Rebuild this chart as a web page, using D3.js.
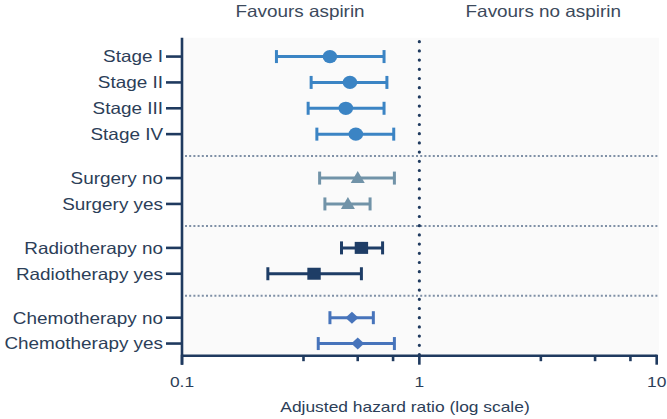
<!DOCTYPE html>
<html><head><meta charset="utf-8">
<script src="https://cdn.jsdelivr.net/npm/d3@7"></script>
<style>body{margin:0;background:#fff}svg{display:block}text{font-family:"Liberation Sans",Arial,Helvetica,sans-serif}</style>
</head><body><svg id="c" width="667" height="419"></svg>
<script>
const categories = ["Stage I","Stage II","Stage III","Stage IV","Surgery no","Surgery yes","Radiotherapy no","Radiotherapy yes","Chemotherapy no","Chemotherapy yes"];
const groups = ["Stage","Stage","Stage","Stage","Surgery","Surgery","Radiotherapy","Radiotherapy","Chemotherapy","Chemotherapy"];
const hazardRatio = [0.42,0.51,0.49,0.54,0.55,0.50,0.57,0.36,0.52,0.55];
const lowerCI = [0.25,0.35,0.34,0.37,0.38,0.40,0.47,0.23,0.42,0.375];
const upperCI = [0.71,0.73,0.71,0.78,0.785,0.62,0.70,0.57,0.64,0.785];
const majorTicks = [0.1,1,10];
const majorTickLabels = ["0.1","1","10"];
const minorTicks = [0.325,0.55,0.775,3.25,5.5,7.75];
const headers = ["Favours aspirin","Favours no aspirin"];
const axisTitle = "Adjusted hazard ratio (log scale)";

const groupColor = {Stage:"#3b84c4",Surgery:"#7193a8",Radiotherapy:"#1e3d66",Chemotherapy:"#4774bb"};
const groupShape = {Stage:"circle",Surgery:"triangle",Radiotherapy:"square",Chemotherapy:"diamond"};
const axisColor = "#1f3a5f", textColor = "#2c3e58";
const SX = 1.16;

// row positions with gaps between groups
const pos = []; let p = 0;
groups.forEach((g,i)=>{ if(i>0) p += (g===groups[i-1]) ? 1 : 1.7; pos.push(p); });
const seps = [];
groups.forEach((g,i)=>{ if(i>0 && g!==groups[i-1]) seps.push((pos[i]+pos[i-1])/2); });

const svg = d3.select("#c");
const x = d3.scaleLog().domain([0.1,10]).range([182,656.7]);
const y = d3.scaleLinear().domain([-0.73,11.57]).range([37.7,355.7]);
const plotTop = y.range()[0], plotBottom = y.range()[1];

// plot background
svg.append("rect").attr("x",x(0.1)).attr("y",plotTop).attr("width",659-x(0.1)).attr("height",plotBottom-plotTop).attr("fill","#fafafa");

// header texts
const hx = [300, 543.3];
headers.forEach((h,i)=>{
  svg.append("text").attr("transform",`translate(${hx[i]},17) scale(${SX},1)`)
    .attr("text-anchor","middle").attr("font-size",16.3).attr("fill","#3c4a5c").text(h);
});

// separators
svg.selectAll("line.sep").data(seps).join("line").attr("class","sep")
  .attr("x1",x(0.1)+3).attr("x2",658).attr("y1",d=>y(d)).attr("y2",d=>y(d))
  .attr("stroke","#7f90a6").attr("stroke-width",2).attr("stroke-dasharray","2 2.2");

// reference line at 1
svg.append("line").attr("x1",x(1)).attr("x2",x(1)).attr("y1",plotTop+4).attr("y2",plotBottom)
  .attr("stroke",axisColor).attr("stroke-width",3.2).attr("stroke-linecap","round").attr("stroke-dasharray","0 9.2");

// error bars
const rows = categories.map((c,i)=>({c,g:groups[i],hr:hazardRatio[i],lo:lowerCI[i],hi:upperCI[i],p:pos[i]}));
const eb = svg.append("g").selectAll("g").data(rows).join("g").attr("stroke",d=>groupColor[d.g]).attr("stroke-width",3).attr("fill","none");
eb.append("line").attr("x1",d=>x(d.lo)).attr("x2",d=>x(d.hi)).attr("y1",d=>y(d.p)).attr("y2",d=>y(d.p));
eb.append("line").attr("x1",d=>x(d.lo)).attr("x2",d=>x(d.lo)).attr("y1",d=>y(d.p)-6.5).attr("y2",d=>y(d.p)+6.5);
eb.append("line").attr("x1",d=>x(d.hi)).attr("x2",d=>x(d.hi)).attr("y1",d=>y(d.p)-6.5).attr("y2",d=>y(d.p)+6.5);

// markers
function markerPath(shape){
  if(shape==="circle") return "M7.3,0A7.3,6.6,0,1,1,-7.3,0A7.3,6.6,0,1,1,7.3,0Z";
  if(shape==="triangle") return "M0,-7L7,5L-7,5Z";
  if(shape==="square") return "M-6.7,-6L6.7,-6L6.7,6L-6.7,6Z";
  return "M0,-6L6.5,0L0,6L-6.5,0Z";
}
svg.append("g").selectAll("path").data(rows).join("path")
  .attr("transform",d=>`translate(${x(d.hr)},${y(d.p)})`)
  .attr("d",d=>markerPath(groupShape[d.g])).attr("fill",d=>groupColor[d.g]);

// y axis
svg.append("line").attr("x1",x(0.1)).attr("x2",x(0.1)).attr("y1",plotTop).attr("y2",plotBottom+9)
  .attr("stroke",axisColor).attr("stroke-width",2.6);
const yt = svg.append("g").selectAll("g").data(rows).join("g").attr("transform",d=>`translate(0,${y(d.p)})`);
yt.append("line").attr("x1",x(0.1)-16).attr("x2",x(0.1)).attr("stroke",axisColor).attr("stroke-width",2.6);
yt.append("text").attr("transform",`translate(${x(0.1)-19},0) scale(${SX},1)`)
  .attr("text-anchor","end").attr("dy","0.36em").attr("font-size",16.3).attr("fill",textColor).text(d=>d.c);

// x axis
svg.append("line").attr("x1",x(0.1)).attr("x2",x(10)).attr("y1",plotBottom).attr("y2",plotBottom)
  .attr("stroke",axisColor).attr("stroke-width",2.6);
svg.append("g").selectAll("line").data(majorTicks).join("line")
  .attr("x1",d=>x(d)).attr("x2",d=>x(d)).attr("y1",plotBottom-1).attr("y2",plotBottom+9).attr("stroke",axisColor).attr("stroke-width",2.6);
svg.append("g").selectAll("line").data(minorTicks).join("line")
  .attr("x1",d=>x(d)).attr("x2",d=>x(d)).attr("y1",plotBottom).attr("y2",plotBottom+5.5).attr("stroke",axisColor).attr("stroke-width",2.6);
svg.append("g").selectAll("text").data(majorTicks).join("text")
  .attr("transform",d=>`translate(${x(d)},387) scale(${SX},1)`).attr("text-anchor","middle")
  .attr("font-size",15).attr("fill",textColor).text((d,i)=>majorTickLabels[i]);

svg.append("text").attr("transform",`translate(405,412) scale(${SX},1)`).attr("text-anchor","middle")
  .attr("font-size",15).attr("fill",textColor).text(axisTitle);
</script></body></html>
